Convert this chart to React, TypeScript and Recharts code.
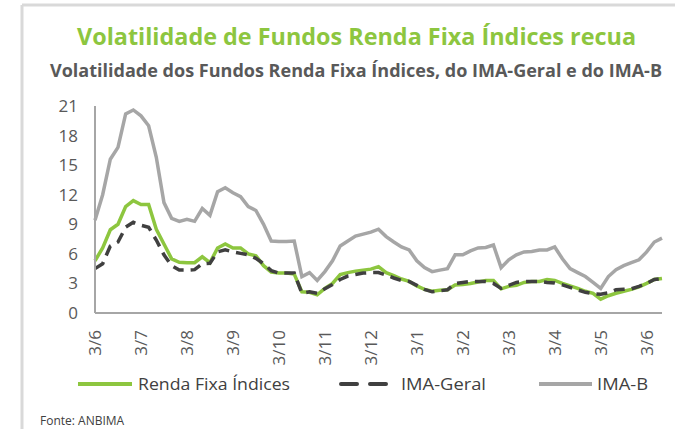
import React from 'react';
import { LineChart, Line, XAxis, YAxis } from 'recharts';

// one point every ~1/6 of a month, from 3/6 to a bit past the next 3/6
const rendaFixa = [
  5.3, 6.6, 8.45, 9.0, 10.8, 11.4, 11.0, 11.0, 8.5, 7.0,
  5.5, 5.15, 5.1, 5.1, 5.7, 5.1, 6.6, 7.0, 6.6, 6.6,
  6.0, 5.8, 4.8, 4.15, 4.05, 4.05, 3.95, 2.15, 2.1, 1.85,
  2.5, 3.0, 3.9, 4.1, 4.25, 4.35, 4.45, 4.7, 4.1, 3.8,
  3.45, 3.2, 2.75, 2.4, 2.2, 2.3, 2.35, 2.85, 2.9, 3.0,
  3.15, 3.3, 3.3, 2.45, 2.7, 2.8, 3.1, 3.2, 3.2, 3.4,
  3.3, 3.0, 2.75, 2.5, 2.2, 2.0, 1.4, 1.75, 2.0, 2.2,
  2.4, 2.65, 3.0, 3.4, 3.5,
];

const imaGeral = [
  4.5, 5.0, 6.8, 7.2, 8.7, 9.2, 8.9, 8.7, 7.4, 5.9,
  4.8, 4.35, 4.35, 4.4, 5.0, 5.05, 6.2, 6.4, 6.2, 6.05,
  5.9, 5.55, 5.0, 4.3, 4.05, 4.05, 4.05, 2.0, 2.15, 2.0,
  2.45, 2.9, 3.4, 3.75, 3.9, 4.05, 4.1, 4.1, 3.85, 3.55,
  3.3, 3.2, 2.8, 2.4, 2.15, 2.25, 2.35, 3.0, 3.1, 3.2,
  3.2, 3.2, 3.0, 2.5, 2.8, 3.1, 3.2, 3.2, 3.2, 3.1,
  3.05, 2.85, 2.6, 2.35, 2.1, 1.95, 1.9, 2.05, 2.35, 2.4,
  2.45, 2.7, 3.0, 3.4, 3.5,
];

const imaB = [
  9.4, 12.0, 15.6, 16.8, 20.2, 20.6, 20.0, 19.0, 15.8, 11.2,
  9.6, 9.3, 9.5, 9.3, 10.6, 9.9, 12.3, 12.7, 12.2, 11.8,
  10.8, 10.4, 9.0, 7.3, 7.25, 7.25, 7.3, 3.7, 4.1, 3.3,
  4.2, 5.3, 6.8, 7.3, 7.8, 8.0, 8.2, 8.5, 7.75, 7.2,
  6.7, 6.4, 5.3, 4.6, 4.2, 4.35, 4.5, 5.9, 5.9, 6.3,
  6.6, 6.65, 6.9, 4.6, 5.4, 5.9, 6.2, 6.25, 6.4, 6.4,
  6.7, 5.5, 4.5, 4.1, 3.7, 3.1, 2.5, 3.7, 4.4, 4.8,
  5.1, 5.4, 6.2, 7.2, 7.6,
];

const monthLabels = ['3/6', '3/7', '3/8', '3/9', '3/10', '3/11', '3/12', '3/1', '3/2', '3/3', '3/4', '3/5', '3/6'];
const yTicks = [0, 3, 6, 9, 12, 15, 18, 21];

const PER_MONTH = 6;
const data = rendaFixa.map((v, i) => ({ k: i, rf: v, geral: imaGeral[i], imab: imaB[i] }));
const xTicks = monthLabels.map((_, i) => i * PER_MONTH);

const FONT = '"Open Sans", sans-serif';

const XTick = (props: any) => {
  const { x, y, payload } = props;
  const label = monthLabels[Math.round(payload.value / PER_MONTH)];
  const ax = x + 6;
  const ay = y + 9;
  return (
    <text x={ax} y={ay} transform={`rotate(-90, ${ax}, ${ay})`} textAnchor="end"
      style={{ fontSize: 17 }} fill="#595959" fontFamily={FONT}>
      {label}
    </text>
  );
};

export default function App() {
  return (
    <div style={{ position: 'absolute', left: 0, top: 0, width: 675, height: 429, background: '#fff', overflow: 'hidden' }}>
      <LineChart width={675} height={429} data={data} margin={{ top: 106, right: 13, left: 0, bottom: 66 }}>
        <XAxis dataKey="k" type="number" domain={[0, 74]} ticks={xTicks} interval={0}
          tick={<XTick />} tickLine={false} height={50}
          axisLine={{ stroke: '#a6a6a6', strokeWidth: 2 }} />
        <YAxis domain={[0, 21]} ticks={yTicks} interval={0} width={95} tickLine={false} tickMargin={11}
          axisLine={{ stroke: '#a6a6a6', strokeWidth: 2 }}
          tick={{ fontSize: 17, fill: '#595959', fontFamily: FONT }} />
        <Line type="linear" dataKey="imab" stroke="#a6a6a6" strokeWidth={3.5} dot={false} isAnimationActive={false} />
        <Line type="linear" dataKey="rf" stroke="#8dc63f" strokeWidth={3.5} dot={false} isAnimationActive={false} />
        <Line type="linear" dataKey="geral" stroke="#404040" strokeWidth={3.5} strokeDasharray="11 7"
          dot={false} isAnimationActive={false} />
      </LineChart>

      <svg width={675} height={429} style={{ position: 'absolute', left: 0, top: 0, pointerEvents: 'none' }}>
        <line x1={22} y1={5} x2={675} y2={5} stroke="#d9d9d9" strokeWidth={3} />
        <line x1={22} y1={5} x2={22} y2={429} stroke="#d9d9d9" strokeWidth={3} />
        <text x={77} y={45} fontSize={24} fontWeight="bold" fill="#8dc63f" fontFamily={FONT}
          textLength={559} lengthAdjust="spacingAndGlyphs">
          Volatilidade de Fundos Renda Fixa Índices recua
        </text>
        <text x={50} y={77} fontSize={17} fontWeight="bold" fill="#595959" fontFamily={FONT}
          textLength={612} lengthAdjust="spacingAndGlyphs">
          Volatilidade dos Fundos Renda Fixa Índices, do IMA-Geral e do IMA-B
        </text>

        <line x1={78} y1={384} x2={132} y2={384} stroke="#8dc63f" strokeWidth={4} />
        <text x={138} y={390} fontSize={16} fill="#404040" fontFamily={FONT} textLength={152} lengthAdjust="spacingAndGlyphs">
          Renda Fixa Índices
        </text>
        <line x1={341} y1={384} x2={386} y2={384} stroke="#404040" strokeWidth={4} strokeDasharray="16 13" strokeLinecap="round" />
        <text x={401} y={390} fontSize={16} fill="#404040" fontFamily={FONT} textLength={85} lengthAdjust="spacingAndGlyphs">
          IMA-Geral
        </text>
        <line x1={539} y1={384} x2={592} y2={384} stroke="#a6a6a6" strokeWidth={4} />
        <text x={597} y={390} fontSize={16} fill="#404040" fontFamily={FONT} textLength={51} lengthAdjust="spacingAndGlyphs">
          IMA-B
        </text>

        <text x={40} y={425} fontSize={12} fill="#404040" fontFamily={FONT}>Fonte: ANBIMA</text>
      </svg>
    </div>
  );
}
